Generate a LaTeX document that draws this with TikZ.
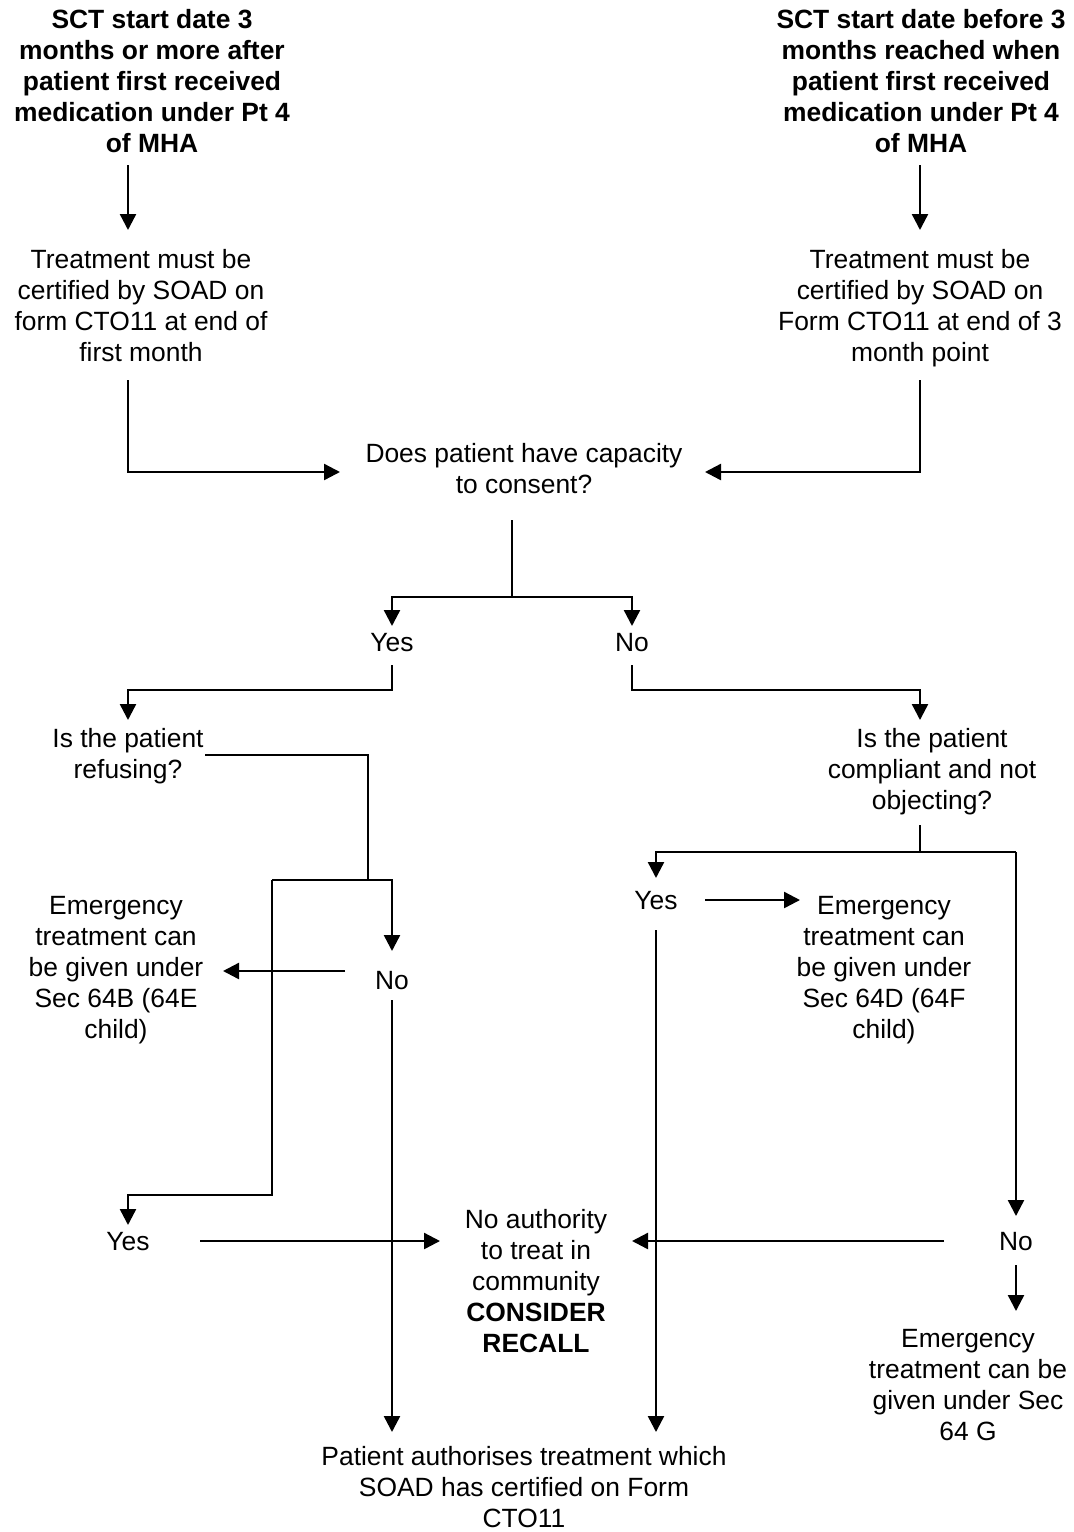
\documentclass[tikz,border=0pt]{standalone}
\usepackage{fontspec}
\setmainfont{Liberation Sans}
\usetikzlibrary{arrows.meta}
\begin{document}
\begin{tikzpicture}[x=0.5pt,y=-0.5pt,
  every node/.style={align=center,inner sep=0pt,font=\fontsize{13.2}{15.5}\selectfont},
  head/.style={font=\fontsize{13.2}{15.5}\selectfont\bfseries},
  link/.style={line width=1.2pt},
  arr/.style={link,-{Triangle[width=8pt,length=8pt]}}]
\useasboundingbox (0,0) rectangle (1073,1532);

% ---- text blocks ----
\node[head] (startL) at (152,81) {SCT start date 3\\months or more after\\patient first received\\medication under Pt 4\\of MHA};
\node[head] (startR) at (921,81) {SCT start date before 3\\months reached when\\patient first received\\medication under Pt 4\\of MHA};
\node (certL) at (141,306) {Treatment must be\\certified by SOAD on\\form CTO11 at end of\\first month};
\node (certR) at (920,308) {Treatment must be\\certified by SOAD on\\Form CTO11 at end of 3\\month point};
\node (cap) at (524,469) {Does patient have capacity\\to consent?};
\node (yes1) at (392,643) {Yes};
\node (no1) at (632,643) {No};
\node (refuse) at (128,756) {Is the patient\\refusing?};
\node (compl) at (932,772) {Is the patient\\compliant and not\\objecting?};
\node (emB) at (116,970) {Emergency\\treatment can\\be given under\\Sec 64B (64E\\child)};
\node (no2) at (392,981) {No};
\node (yes2) at (656,901) {Yes};
\node (emD) at (884,970) {Emergency\\treatment can\\be given under\\Sec 64D (64F\\child)};
\node (yes3) at (128,1242) {Yes};
\node (noauth) at (536,1281) {No authority\\to treat in\\community\\\textbf{CONSIDER}\\\textbf{RECALL}};
\node (no3) at (1016,1242) {No};
\node (emG) at (968,1385) {Emergency\\treatment can be\\given under Sec\\64 G};
\node (patient) at (524,1487) {Patient authorises treatment which\\SOAD has certified on Form\\CTO11};

% ---- connector end points and bends ----
\coordinate (sLa) at (128,165);  \coordinate (sLb) at (128,230);
\coordinate (sRa) at (920,165);  \coordinate (sRb) at (920,230);
\coordinate (cLa) at (128,380);  \coordinate (cLb) at (128,472);  \coordinate (cLc) at (340,472);
\coordinate (cRa) at (920,380);  \coordinate (cRb) at (920,472);  \coordinate (cRc) at (705,472);
\coordinate (capA) at (512,520); \coordinate (capB) at (512,597);
\coordinate (yes1Tip) at (392,626); \coordinate (no1Tip) at (632,626);
\coordinate (y1a) at (392,665);  \coordinate (y1b) at (392,690);  \coordinate (y1c) at (128,690); \coordinate (y1d) at (128,720);
\coordinate (n1a) at (632,665);  \coordinate (n1b) at (632,690);  \coordinate (n1c) at (920,690); \coordinate (n1d) at (920,720);
\coordinate (rfA) at (205,755);  \coordinate (rfB) at (368,755);  \coordinate (rfC) at (368,880);
\coordinate (spL) at (272,880);  \coordinate (spR) at (392,880);  \coordinate (no2Tip) at (392,951);
\coordinate (spD) at (272,1195); \coordinate (spE) at (128,1195); \coordinate (yes3Tip) at (128,1225);
\coordinate (n2L) at (345,971);  \coordinate (emBTip) at (223,971);
\coordinate (n2D) at (392,1000); \coordinate (n2Tip) at (392,1432);
\coordinate (y3R) at (200,1241); \coordinate (y3Tip) at (440,1241);
\coordinate (cpA) at (920,825);  \coordinate (cpB) at (920,852);
\coordinate (cpL) at (656,852);  \coordinate (cpR) at (1016,852);
\coordinate (yes2Tip) at (656,878); \coordinate (no3Tip) at (1016,1216);
\coordinate (y2R) at (705,900);  \coordinate (emDTip) at (800,900);
\coordinate (y2D) at (656,930);  \coordinate (y2Tip) at (656,1432);
\coordinate (n3L) at (944,1241); \coordinate (n3Tip) at (632,1241);
\coordinate (n3D) at (1016,1265); \coordinate (emGTip) at (1016,1311);

% ---- connectors ----
\draw[arr] (sLa) -- (sLb);
\draw[arr] (sRa) -- (sRb);
\draw[arr] (cLa) -- (cLb) -- (cLc);
\draw[arr] (cRa) -- (cRb) -- (cRc);
\draw[arr] (capA) -- (capB) -| (yes1Tip);
\draw[arr] (capB) -| (no1Tip);
\draw[arr] (y1a) -- (y1b) -- (y1c) -- (y1d);
\draw[arr] (n1a) -- (n1b) -- (n1c) -- (n1d);
\draw[link] (rfA) -- (rfB) -- (rfC);
\draw[arr] (spL) -- (spR) -- (no2Tip);
\draw[arr] (spL) -- (spD) -- (spE) -- (yes3Tip);
\draw[arr] (n2L) -- (emBTip);
\draw[arr] (n2D) -- (n2Tip);
\draw[arr] (y3R) -- (y3Tip);
\draw[link] (cpA) -- (cpB);
\draw[arr] (cpR) -- (cpL) -- (yes2Tip);
\draw[arr] (cpR) -- (no3Tip);
\draw[arr] (y2R) -- (emDTip);
\draw[arr] (y2D) -- (y2Tip);
\draw[arr] (n3L) -- (n3Tip);
\draw[arr] (n3D) -- (emGTip);
\end{tikzpicture}
\end{document}
